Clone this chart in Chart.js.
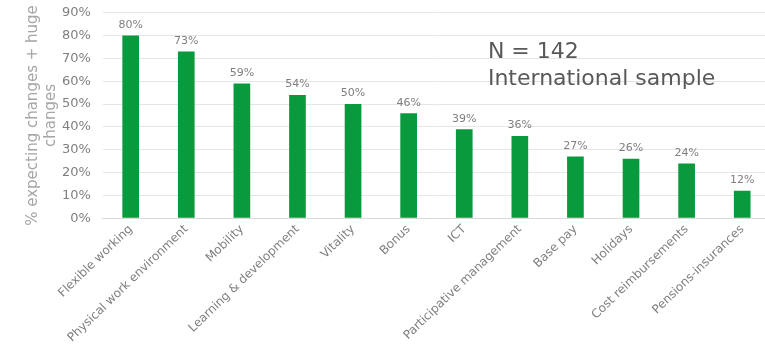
<!DOCTYPE html>
<html>
<head>
<meta charset="utf-8">
<script src="https://cdn.jsdelivr.net/npm/chart.js@4.4.0/dist/chart.umd.min.js"></script>
<style>
  html, body { margin: 0; padding: 0; background: #fff; overflow: hidden; }
  #wrap { width: 770px; height: 358px; margin-top: -7px; }
</style>
</head>
<body>
<div id="wrap"><canvas id="benefits-bar"></canvas></div>
<script>
const categories = ['Flexible working', 'Physical work environment', 'Mobility', 'Learning & development',
    'Vitality', 'Bonus', 'ICT', 'Participative management', 'Base pay', 'Holidays',
    'Cost reimbursements', 'Pensions-insurances'];
const expecting = [80, 73, 59, 54, 50, 46, 39, 36, 27, 26, 24, 12];
const noteLines = ['N = 142', 'International sample'];

const FONT = "'DejaVu Sans', Verdana, sans-serif";

// value labels above each bar
const valueLabels = {
    id: 'valueLabels',
    afterDatasetsDraw(chart) {
        const ctx = chart.ctx;
        const meta = chart.getDatasetMeta(0);
        ctx.save();
        ctx.font = '11px ' + FONT;
        ctx.fillStyle = '#7f7f7f';
        ctx.textAlign = 'center';
        ctx.textBaseline = 'bottom';
        meta.data.forEach((bar, i) => {
            ctx.fillText(expecting[i] + '%', bar.x, bar.y - 5);
        });
        ctx.restore();
    }
};

// sample size note in the upper right
const sampleNote = {
    id: 'sampleNote',
    afterDraw(chart) {
        const ctx = chart.ctx;
        const area = chart.chartArea;
        ctx.save();
        ctx.font = '22px ' + FONT;
        ctx.fillStyle = '#595959';
        ctx.textAlign = 'left';
        ctx.textBaseline = 'alphabetic';
        noteLines.forEach((t, i) => {
            ctx.fillText(t, area.left + 385, area.top + 45 + i * 27);
        });
        ctx.restore();
    }
};

new Chart(document.getElementById('benefits-bar'), {
    type: 'bar',
    data: {
        labels: categories,
        datasets: [{
            data: expecting,
            backgroundColor: '#089a3d',
            borderWidth: 0,
            barPercentage: 0.3,
            categoryPercentage: 1
        }]
    },
    options: {
        responsive: true,
        maintainAspectRatio: false,
        animation: false,
        layout: { padding: { top: 0, right: 0, left: 24, bottom: 2 } },
        plugins: {
            legend: { display: false },
            tooltip: { enabled: false }
        },
        scales: {
            x: {
                grid: { display: false, drawTicks: false },
                border: { color: '#d9d9d9' },
                ticks: {
                    color: '#7f7f7f',
                    font: { family: FONT, size: 12 },
                    minRotation: 44,
                    maxRotation: 44,
                    padding: 4,
                    autoSkip: false
                }
            },
            y: {
                min: 0,
                max: 90,
                grid: { color: '#e6e6e6', drawTicks: false },
                border: { display: false },
                ticks: {
                    stepSize: 10,
                    color: '#7f7f7f',
                    padding: 12,
                    font: { family: FONT, size: 13 },
                    callback: v => v + '%'
                },
                title: {
                    display: true,
                    text: ['% expecting changes + huge', 'changes'],
                    color: '#a6a6a6',
                    font: { family: FONT, size: 15 },
                    padding: { top: 0, bottom: -10 }
                }
            }
        }
    },
    plugins: [valueLabels, sampleNote]
});
</script>
</body>
</html>
